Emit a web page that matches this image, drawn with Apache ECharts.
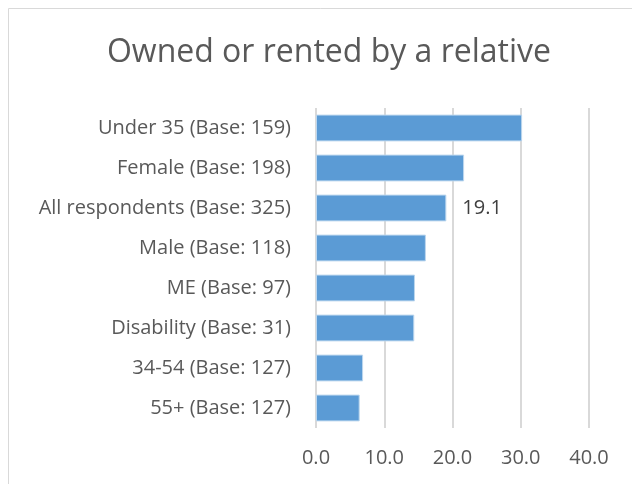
<!DOCTYPE html>
<html><head><meta charset="utf-8">
<script src="https://cdn.jsdelivr.net/npm/echarts@6/dist/echarts.min.js"></script>
<style>html,body{margin:0;padding:0;background:#fff}#c{width:632px;height:484px}</style>
</head><body><div id="c"></div>
<script>
const titleText = "Owned or rented by a relative";
const categories = [
  "Under 35 (Base: 159)",
  "Female (Base: 198)",
  "All respondents (Base: 325)",
  "Male (Base: 118)",
  "ME (Base: 97)",
  "Disability (Base: 31)",
  "34-54 (Base: 127)",
  "55+ (Base: 127)"
];
const values = [30.2, 21.7, 19.1, 16.1, 14.5, 14.4, 6.9, 6.4];
const labelledCategory = "All respondents (Base: 325)";
const xTicks = [0, 10, 20, 30, 40];

const chart = echarts.init(document.getElementById('c'));
chart.setOption({
  animation: false,
  title: {
    text: titleText, left: 324, textAlign: 'center', top: 32,
    textStyle: {fontFamily: 'Open Sans', fontSize: 32, fontWeight: 'normal', color: '#595959'}
  },
  graphic: [{
    type: 'polyline', shape: {points: [[8.5, 484], [8.5, 8.5], [632, 8.5]]},
    style: {stroke: '#d9d9d9', lineWidth: 1, fill: null}
  }],
  grid: {left: 316, right: 43, top: 108, bottom: 56, containLabel: false},
  xAxis: {
    type: 'value', min: xTicks[0], max: xTicks[xTicks.length - 1], interval: 10,
    axisLine: {show: false}, axisTick: {show: false},
    splitLine: {lineStyle: {color: '#d9d9d9', width: 2}},
    axisLabel: {formatter: v => v.toFixed(1), fontFamily: 'Open Sans', fontSize: 20, color: '#595959', margin: 20}
  },
  yAxis: {
    type: 'category', data: categories, inverse: true,
    axisLine: {show: false}, axisTick: {show: false},
    axisLabel: {fontFamily: 'Open Sans', fontSize: 20, color: '#595959', margin: 25}
  },
  series: [{
    type: 'bar', data: values.map((v, i) => ({
      value: v,
      label: {show: categories[i] === labelledCategory}
    })),
    barCategoryGap: '33%',
    itemStyle: {color: '#5b9bd5', borderColor: '#bdd7ee', borderWidth: 1},
    label: {position: 'right', distance: 16, formatter: p => p.value.toFixed(1),
      fontFamily: 'Open Sans', fontSize: 20, color: '#404040'}
  }]
});
</script></body></html>
